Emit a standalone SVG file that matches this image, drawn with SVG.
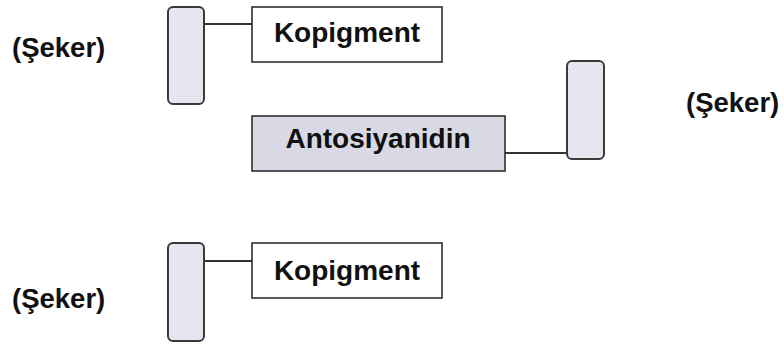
<svg xmlns="http://www.w3.org/2000/svg" width="784" height="345" viewBox="0 0 784 345">
<defs>
<pattern id="dots" width="4" height="4" patternUnits="userSpaceOnUse">
<rect width="4" height="4" fill="#e8e9f1"/>
<rect x="0" y="0" width="1" height="1" fill="#cfd0db"/>
<rect x="2" y="2" width="1" height="1" fill="#cfd0db"/>
</pattern>
</defs>
<style>
.sugar{fill:url(#dots);stroke:#3a3a3a;stroke-width:2}
.box{fill:#fff;stroke:#222;stroke-width:1.5}
.abox{fill:#d8d9e5;stroke:#222;stroke-width:1.5}
.t{font-family:"Liberation Sans",Arial,sans-serif;font-weight:bold;font-size:28px;fill:#111;text-anchor:middle}
.s{font-family:"Liberation Sans",Arial,sans-serif;font-weight:bold;font-size:27.5px;fill:#111}
.c{stroke:#333;stroke-width:2;fill:none}
</style>
<g id="connectors">
<line class="c" x1="204" y1="24" x2="252" y2="24"/>
<line class="c" x1="505" y1="153" x2="567" y2="153"/>
<line class="c" x1="204" y1="261" x2="252" y2="261"/>
</g>
<g id="sugar1"><rect class="sugar" x="168" y="7" width="36" height="97" rx="5"/></g>
<g id="kopigment1"><rect class="box" x="252" y="7" width="190" height="55"/><text class="t" x="347" y="42">Kopigment</text></g>
<g id="antosiyanidin"><rect class="abox" x="252" y="116" width="253" height="55"/><text class="t" x="378" y="148">Antosiyanidin</text></g>
<g id="sugar2"><rect class="sugar" x="567" y="61" width="37" height="98" rx="5"/></g>
<g id="sugar3"><rect class="sugar" x="168" y="243" width="36" height="98" rx="5"/></g>
<g id="kopigment2"><rect class="box" x="252" y="243" width="190" height="55"/><text class="t" x="347" y="280">Kopigment</text></g>
<g id="label1"><text class="s" x="12" y="57">(Şeker)</text></g>
<g id="label2"><text class="s" x="686" y="112">(Şeker)</text></g>
<g id="label3"><text class="s" x="12" y="308">(Şeker)</text></g>
</svg>
